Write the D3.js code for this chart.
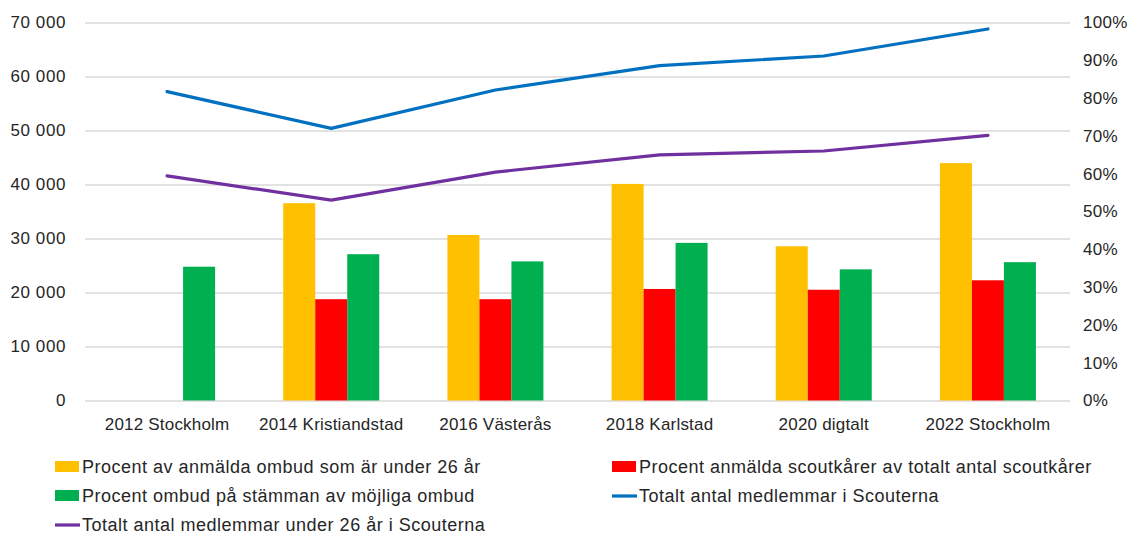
<html>
<script src='https://d3js.org/d3.v7.min.js'></script>
<style>
body {margin: 0; background: #fff;}
text {font-family: 'Liberation Sans', Arial, sans-serif; fill: #262626;}
.grid line {stroke: #d9d9d9; stroke-width: 1.3;}
</style>
<body onload='init()'>
<svg width=1131 height=536></svg>
<script>
// data
const categories = ["2012 Stockholm", "2014 Kristiandstad", "2016 Västerås", "2018 Karlstad", "2020 digtalt", "2022 Stockholm"];
const pctUnder26 = [null, 52.2, 43.8, 57.3, 40.8, 62.8];
const pctKarer = [null, 26.8, 26.8, 29.5, 29.3, 31.8];
const pctOmbud = [35.4, 38.7, 36.8, 41.7, 34.7, 36.6];
const members = [57200, 50400, 57500, 62000, 63800, 68800];
const membersUnder26 = [41600, 37100, 42300, 45500, 46200, 49100];
const leftTicks = [0, 10000, 20000, 30000, 40000, 50000, 60000, 70000];
const rightTicks = [0, 0.1, 0.2, 0.3, 0.4, 0.5, 0.6, 0.7, 0.8, 0.9, 1];

const barSeries = [
  {name: "Procent av anmälda ombud som är under 26 år", values: pctUnder26, color: "#FFC000"},
  {name: "Procent anmälda scoutkårer av totalt antal scoutkårer", values: pctKarer, color: "#FF0000"},
  {name: "Procent ombud på stämman av möjliga ombud", values: pctOmbud, color: "#00B050"}
];
const lineSeries = [
  {name: "Totalt antal medlemmar i Scouterna", values: members, color: "#0070C0"},
  {name: "Totalt antal medlemmar under 26 år i Scouterna", values: membersUnder26, color: "#7030A0"}
];

function init() {
  const svg = d3.select("svg");
  const left = 85, right = 1070, top = 22.5, bottom = 400.5;

  const x = d3.scaleBand().domain(categories).range([left, right]);
  const xs = d3.scaleBand().domain(barSeries.map(d => d.name)).range([-48, 48]);
  const yL = d3.scaleLinear().domain([0, 70000]).range([bottom, top]);
  const yR = d3.scaleLinear().domain([0, 1]).range([bottom, top]);

  const sv = d3.formatLocale({decimal: ",", thousands: " ", grouping: [3], currency: ["", ""]});

  // gridlines
  svg.append("g").attr("class", "grid")
    .attr("transform", "translate(" + left + ",0)")
    .call(d3.axisLeft(yL).tickValues(leftTicks).tickSize(-(right - left)).tickFormat(""))
    .call(g => g.select(".domain").remove());

  // left axis
  svg.append("g")
    .attr("transform", "translate(66,0)")
    .call(d3.axisLeft(yL).tickValues(leftTicks).tickSize(0).tickPadding(0).tickFormat(sv.format(",.0f")))
    .call(g => g.select(".domain").remove())
    .selectAll("text").style("font-size", "17px").style("letter-spacing", "0.6px")
      .style("font-family", "'Liberation Sans', Arial, sans-serif").attr("fill", "#262626");

  // right axis
  svg.append("g")
    .attr("transform", "translate(1083,0)")
    .call(d3.axisRight(yR).tickValues(rightTicks).tickSize(0).tickPadding(0).tickFormat(d3.format(".0%")))
    .call(g => g.select(".domain").remove())
    .selectAll("text").style("font-size", "17px").style("letter-spacing", "0.3px")
      .style("font-family", "'Liberation Sans', Arial, sans-serif").attr("fill", "#262626");

  // x axis labels
  svg.append("g")
    .attr("transform", "translate(0,418)")
    .call(d3.axisBottom(x).tickSize(0).tickPadding(0))
    .call(g => g.select(".domain").remove())
    .selectAll("text").style("font-size", "17px").style("letter-spacing", "0.2px")
      .style("font-family", "'Liberation Sans', Arial, sans-serif").attr("fill", "#262626");

  // bars
  barSeries.forEach(s => {
    svg.append("g").selectAll("rect")
      .data(categories.map((c, i) => ({c: c, v: s.values[i]})).filter(d => d.v != null))
      .enter().append("rect")
        .attr("x", d => x(d.c) + x.bandwidth() / 2 + xs(s.name))
        .attr("width", xs.bandwidth())
        .attr("y", d => yR(d.v / 100))
        .attr("height", d => bottom - yR(d.v / 100))
        .attr("fill", s.color);
  });

  // lines
  const line = d3.line().x((d, i) => x(categories[i]) + x.bandwidth() / 2).y(d => yL(d));
  lineSeries.forEach(s => {
    svg.append("path")
      .attr("d", line(s.values))
      .attr("fill", "none")
      .attr("stroke", s.color)
      .attr("stroke-width", 3.2)
      .attr("stroke-linejoin", "round")
      .attr("stroke-linecap", "round");
  });

  // legend
  const legendItems = [
    {s: barSeries[0], type: "bar", x: 55, y: 467},
    {s: barSeries[1], type: "bar", x: 612, y: 467},
    {s: barSeries[2], type: "bar", x: 55, y: 496},
    {s: lineSeries[0], type: "line", x: 612, y: 496},
    {s: lineSeries[1], type: "line", x: 55, y: 525}
  ];
  const lg = svg.append("g").selectAll("g").data(legendItems).enter().append("g")
    .attr("transform", d => "translate(" + d.x + "," + d.y + ")");
  lg.filter(d => d.type == "bar").append("rect")
    .attr("x", 0).attr("y", -6).attr("width", 24).attr("height", 11)
    .attr("fill", d => d.s.color);
  lg.filter(d => d.type == "line").append("line")
    .attr("x1", 0).attr("x2", 25).attr("y1", 0).attr("y2", 0)
    .attr("stroke", d => d.s.color).attr("stroke-width", 3.2);
  lg.append("text")
    .attr("x", 27).attr("dy", "0.35em")
    .style("font-size", "18px").style("letter-spacing", "0.5px")
    .attr("fill", "#111")
    .text(d => d.s.name);
}
</script>
</body>
</html>
